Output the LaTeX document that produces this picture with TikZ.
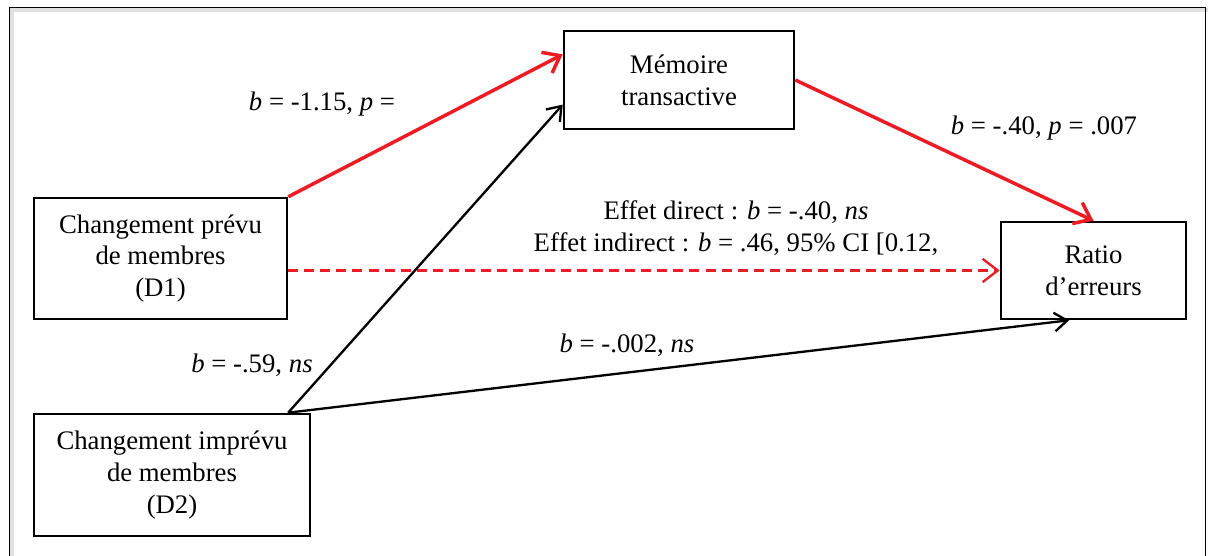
\documentclass[tikz,border=0pt]{standalone}
\usepackage{fontspec}
\setmainfont{Liberation Serif}
\usetikzlibrary{arrows.meta,calc}
\definecolor{wordred}{RGB}{237,28,36}
\begin{document}
\begin{tikzpicture}[x=0.43pt,y=-0.43pt,
  var/.style={draw,line width=1.1pt,align=center,inner sep=0pt,font=\fontsize{11.5}{13.7}\selectfont},
  lab/.style={inner sep=1pt,align=center,font=\fontsize{11.5}{13.7}\selectfont},
  redpath/.style={-{Straight Barb[length=6.5pt,width=10pt]},draw=wordred,line width=1.5pt},
  blackpath/.style={-{Straight Barb[length=5.5pt,width=8pt]},line width=1pt}]
\useasboundingbox (0,0) rectangle (1208,556);
\draw[black!12,line width=2pt] (12,580) -- (12,10) -- (1208,10);
\draw[line width=0.7pt] (9.5,580) -- (9.5,7.5) -- (1205.5,7.5) -- (1205.5,580);
\node[var,minimum width=98.9pt,minimum height=42.1pt] (memoire) at (679,80) {Mémoire\\transactive};
\node[var,minimum width=108.8pt,minimum height=52pt] (d1) at (160.5,258.5) {Changement prévu\\de membres\\(D1)};
\node[var,minimum width=118.7pt,minimum height=52.5pt] (d2) at (172,475) {Changement imprévu\\de membres\\(D2)};
\node[var,minimum width=79.6pt,minimum height=41.7pt] (ratio) at (1093.5,270.5) {Ratio\\d’erreurs};
\coordinate (d2-top) at ($(d2.north west)!0.917!(d2.north east)$);
\draw[redpath] (d1.north east) -- ($(memoire.north west)!0.245!(memoire.south west)$);
\draw[redpath] (memoire.east) -- (ratio.north);
\draw[redpath,line width=1pt,dash pattern=on 4.3pt off 2.6pt] (d1.east |- ratio.west) -- (ratio.west);
\draw[blackpath] (d2-top) -- ($(memoire.north west)!0.745!(memoire.south west)$);
\draw[blackpath] (d2-top) -- ($(ratio.south west)!0.37!(ratio.south east)$);
\node[lab] (d1-med) at (322,104) {\textit{b} = -1.15, \textit{p} =};
\node[lab] (med-ratio) at (1044,128) {\textit{b} = -.40, \textit{p} = .007};
\node[lab] (direct-effect) at (736,228) {Effet direct : \textit{b} = -.40, \textit{ns}\\Effet indirect : \textit{b} = .46, 95\% CI [0.12,};
\node[lab] (d2-med) at (252,365) {\textit{b} = -.59, \textit{ns}};
\node[lab] (d2-ratio) at (627,345) {\textit{b} = -.002, \textit{ns}};
\end{tikzpicture}
\end{document}
